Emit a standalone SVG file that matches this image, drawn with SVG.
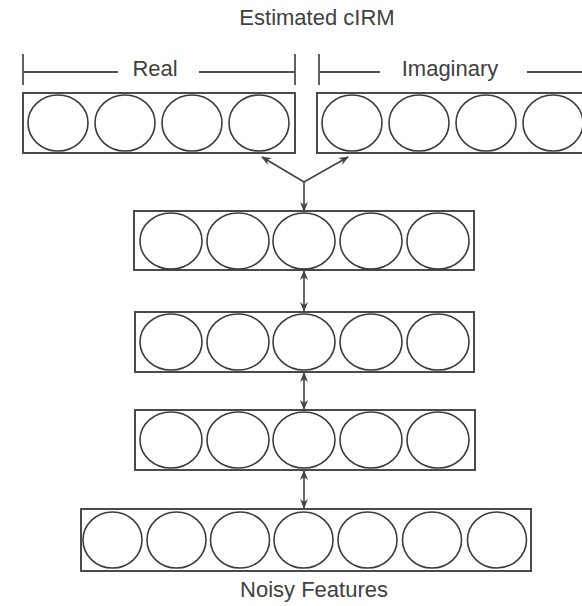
<svg xmlns="http://www.w3.org/2000/svg" width="582" height="606" viewBox="0 0 582 606">
<defs>
<style>
.t{font-family:"Liberation Sans",Arial,sans-serif;font-size:22px;fill:#404040;text-anchor:middle}
.box{fill:#fff;stroke:#4a4a4a;stroke-width:2}
.c{fill:none;stroke:#3c3c3c;stroke-width:1.6}
.ln{fill:none;stroke:#505050;stroke-width:1.8}
.ar{fill:none;stroke:#444;stroke-width:1.6}
</style>
<marker id="ah" viewBox="0 0 10 8" refX="9" refY="4" markerWidth="10" markerHeight="8" markerUnits="userSpaceOnUse" orient="auto-start-reverse">
<path d="M0,0 L10,4 L0,8 L3,4 z" fill="#444"/>
</marker>
</defs>
<rect width="582" height="606" fill="#fff"/>
<text class="t" x="317" y="25">Estimated cIRM</text>
<g id="bracket-real">
<path class="ln" d="M23,54 V85 M23,72 H118 M199,72 H295 M295,54 V85"/>
<text class="t" x="155" y="76">Real</text>
</g>
<g id="bracket-imag">
<path class="ln" d="M319,54 V85 M319,72 H380 M527,72 H590"/>
<text class="t" x="450" y="76">Imaginary</text>
</g>
<g id="out-real">
<rect class="box" x="23" y="93" width="272" height="60"/>
<ellipse class="c" cx="58" cy="123" rx="30" ry="28"/>
<ellipse class="c" cx="125" cy="123" rx="30" ry="28"/>
<ellipse class="c" cx="192" cy="123" rx="30" ry="28"/>
<ellipse class="c" cx="259" cy="123" rx="30" ry="28"/>
</g>
<g id="out-imag">
<rect class="box" x="317" y="93" width="272" height="60"/>
<ellipse class="c" cx="352" cy="123" rx="30" ry="28"/>
<ellipse class="c" cx="419" cy="123" rx="30" ry="28"/>
<ellipse class="c" cx="486" cy="123" rx="30" ry="28"/>
<ellipse class="c" cx="553" cy="123" rx="30" ry="28"/>
</g>
<g id="hidden3">
<rect class="box" x="134" y="211" width="340" height="59"/>
<ellipse class="c" cx="171" cy="241" rx="31" ry="28"/>
<ellipse class="c" cx="238" cy="241" rx="31" ry="28"/>
<ellipse class="c" cx="304" cy="241" rx="31" ry="28"/>
<ellipse class="c" cx="371" cy="241" rx="31" ry="28"/>
<ellipse class="c" cx="438" cy="241" rx="31" ry="28"/>
</g>
<g id="hidden2">
<rect class="box" x="135" y="312" width="339" height="60"/>
<ellipse class="c" cx="171" cy="342" rx="31" ry="28"/>
<ellipse class="c" cx="238" cy="342" rx="31" ry="28"/>
<ellipse class="c" cx="304" cy="342" rx="31" ry="28"/>
<ellipse class="c" cx="371" cy="342" rx="31" ry="28"/>
<ellipse class="c" cx="438" cy="342" rx="31" ry="28"/>
</g>
<g id="hidden1">
<rect class="box" x="135" y="410" width="340" height="60"/>
<ellipse class="c" cx="171" cy="440" rx="31" ry="28"/>
<ellipse class="c" cx="238" cy="440" rx="31" ry="28"/>
<ellipse class="c" cx="304" cy="440" rx="31" ry="28"/>
<ellipse class="c" cx="371" cy="440" rx="31" ry="28"/>
<ellipse class="c" cx="438" cy="440" rx="31" ry="28"/>
</g>
<g id="input">
<rect class="box" x="81" y="509" width="450" height="62"/>
<ellipse class="c" cx="112.5" cy="540" rx="29.5" ry="28"/>
<ellipse class="c" cx="176.5" cy="540" rx="29.5" ry="28"/>
<ellipse class="c" cx="240" cy="540" rx="29.5" ry="28"/>
<ellipse class="c" cx="303.5" cy="540" rx="29.5" ry="28"/>
<ellipse class="c" cx="367.5" cy="540" rx="29.5" ry="28"/>
<ellipse class="c" cx="432" cy="540" rx="29.5" ry="28"/>
<ellipse class="c" cx="497" cy="540" rx="29.5" ry="28"/>
<text class="t" x="314" y="597">Noisy Features</text>
</g>
<g id="connectors">
<path class="ar" d="M304,182 L262,157" marker-end="url(#ah)"/>
<path class="ar" d="M304,182 L348,157" marker-end="url(#ah)"/>
<path class="ar" d="M304,182 L304,211" marker-end="url(#ah)"/>
<path class="ar" d="M304,271 L304,311" marker-start="url(#ah)" marker-end="url(#ah)"/>
<path class="ar" d="M304,373 L304,409" marker-start="url(#ah)" marker-end="url(#ah)"/>
<path class="ar" d="M304,471 L304,508" marker-start="url(#ah)" marker-end="url(#ah)"/>
</g>
</svg>
